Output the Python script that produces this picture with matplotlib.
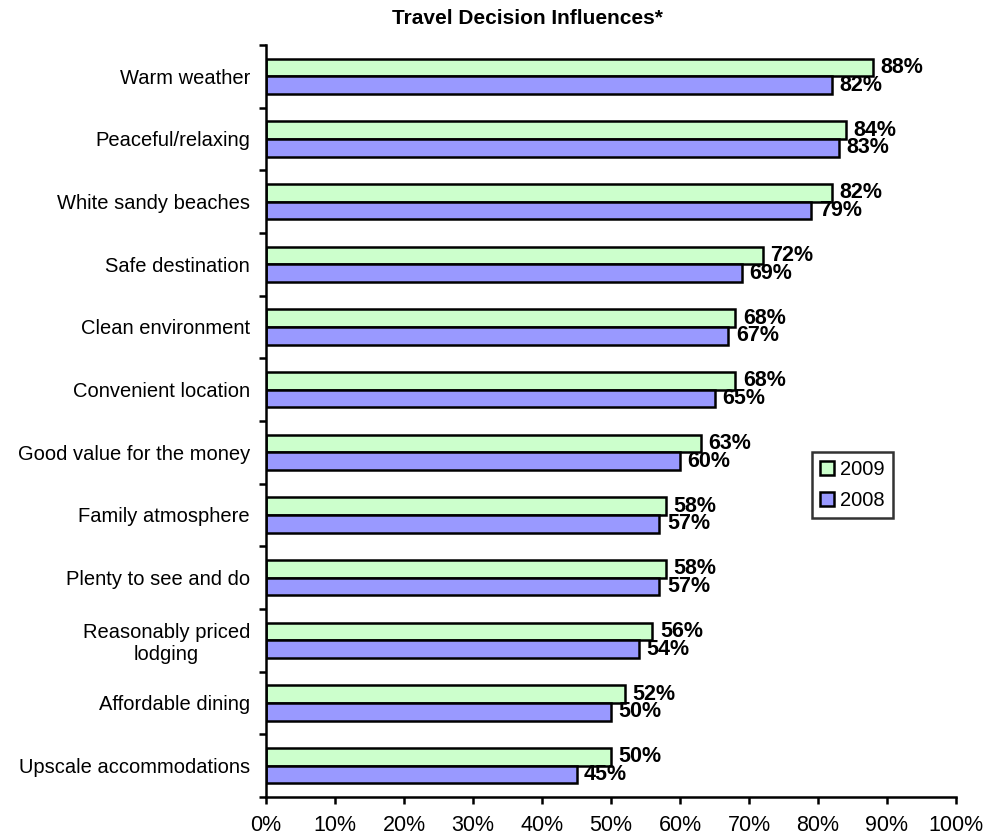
import matplotlib
matplotlib.use("Agg")
import matplotlib.pyplot as plt
import numpy as np
from matplotlib.patches import Patch

plt.rcParams['font.family'] = ['Liberation Sans', 'DejaVu Sans']

categories = ["Warm weather", "Peaceful/relaxing", "White sandy beaches", "Safe destination",
              "Clean environment", "Convenient location", "Good value for the money",
              "Family atmosphere", "Plenty to see and do", "Reasonably priced\nlodging",
              "Affordable dining", "Upscale accommodations"]
values_2009 = [88, 84, 82, 72, 68, 68, 63, 58, 58, 56, 52, 50]
values_2008 = [82, 83, 79, 69, 67, 65, 60, 57, 57, 54, 50, 45]
series_labels = ["2009", "2008"]
xticks = list(range(0, 101, 10))

green = "#CCFFCC"
purple = "#9999FF"

fig = plt.figure(figsize=(10, 8.35), dpi=100)
ax = fig.add_axes([0.266, 1 - 797/835, 0.690, (797 - 45)/835])

n = len(categories)
pos = np.arange(n)
h = 0.28
ax.barh(pos - h/2, values_2009, height=h, color=green, edgecolor="black", linewidth=1.8)
ax.barh(pos + h/2, values_2008, height=h, color=purple, edgecolor="black", linewidth=1.8)

for i in range(n):
    ax.text(values_2009[i] + 1.1, pos[i] - h/2, f"{values_2009[i]}%", va="center", ha="left",
            fontsize=15.5, fontweight="bold")
    ax.text(values_2008[i] + 1.1, pos[i] + h/2, f"{values_2008[i]}%", va="center", ha="left",
            fontsize=15.5, fontweight="bold")

ax.set_ylim(n - 0.5, -0.5)
ax.set_xlim(0, 100)
ax.set_xticks(xticks)
ax.set_xticklabels([f"{t}%" for t in xticks], fontsize=15.5)
ax.set_yticks(pos)
ax.set_yticklabels(categories, fontsize=14.5)
for lbl in ax.get_yticklabels():
    lbl.set_multialignment("center")
ax.set_yticks(np.arange(-0.5, n, 1.0), minor=True)
ax.tick_params(axis="y", which="major", length=0, pad=11.5)
ax.tick_params(axis="y", which="minor", length=5, width=1.8, direction="out")
ax.tick_params(axis="x", which="major", length=5, width=1.8, direction="out", pad=8)

for s in ["top", "right"]:
    ax.spines[s].set_visible(False)
for s in ["left", "bottom"]:
    ax.spines[s].set_linewidth(1.8)

fig.text(0.527, 1 - 18/835, "Travel Decision Influences*", ha="center", va="center",
         fontsize=15, fontweight="bold")

handles = [Patch(facecolor=green, edgecolor="black", linewidth=1.8),
           Patch(facecolor=purple, edgecolor="black", linewidth=1.8)]
leg = fig.legend(handles, series_labels, loc="upper left",
                 bbox_to_anchor=(812/1000, 1 - 452/835), bbox_transform=fig.transFigure,
                 fontsize=14.5, frameon=True, fancybox=False, handlelength=0.7, handleheight=0.7,
                 handletextpad=0.3, borderpad=0.4, labelspacing=0.6, borderaxespad=0)
leg.get_frame().set_edgecolor("black")
leg.get_frame().set_linewidth(1.8)

fig.savefig("out.png", dpi=100)
